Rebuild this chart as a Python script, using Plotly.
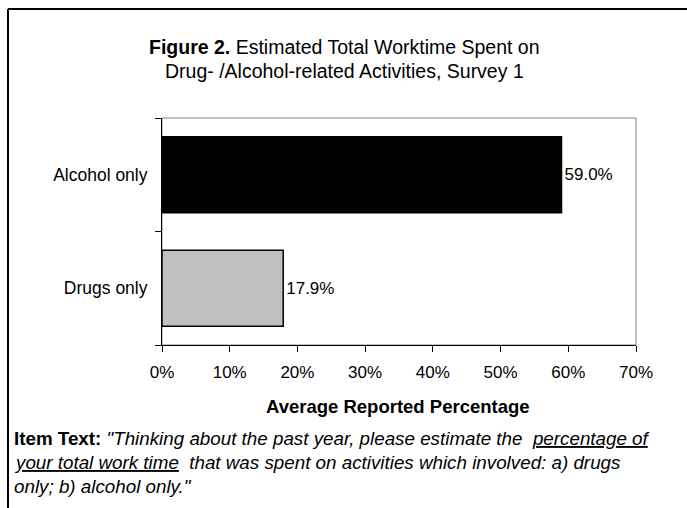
import plotly.graph_objects as go

categories = ["Drugs only", "Alcohol only"]
values = [17.9, 59.0]
bar_colors = ["#C0C0C0", "#000000"]
value_labels = ["17.9%", "59.0%"]
x_tickvals = [0, 10, 20, 30, 40, 50, 60, 70]
x_ticktext = ["0%", "10%", "20%", "30%", "40%", "50%", "60%", "70%"]

W, H = 687, 508
L, R, T, B = 162, 636, 118, 345
FONT = "Liberation Sans, Arial, sans-serif"


def px(x):
    return (x - L) / (R - L)


def py(y):
    return (B - y) / (B - T)


fig = go.Figure()
fig.add_trace(go.Bar(
    y=categories, x=values, orientation="h",
    marker=dict(color=bar_colors, line=dict(color="#000000", width=1.5)),
    text=value_labels, textposition="outside", cliponaxis=False,
    textfont=dict(family=FONT, size=17, color="#000000"),
    width=0.67, hoverinfo="skip",
))

fig.update_layout(
    width=W, height=H,
    margin=dict(l=L, r=W - R, t=T, b=H - B, pad=0),
    paper_bgcolor="white", plot_bgcolor="white",
    showlegend=False,
    font=dict(family=FONT, size=17, color="#000000"),
    bargap=0.33,
)
fig.update_xaxes(
    range=[0, 70], tickvals=x_tickvals, ticktext=x_ticktext,
    showgrid=False, zeroline=False,
    showline=True, linecolor="#000000", linewidth=1,
    ticks="outside", ticklen=6, tickcolor="#000000", tickwidth=1,
    ticklabelstandoff=6,
    tickfont=dict(family=FONT, size=17, color="#000000"),
)
fig.update_yaxes(
    categoryorder="array", categoryarray=categories,
    showgrid=False, zeroline=False,
    showline=True, linecolor="#000000", linewidth=1,
    ticks="outside", ticklen=6, tickcolor="#000000", tickwidth=1,
    tickson="boundaries", ticklabelstandoff=10,
    tickfont=dict(family=FONT, size=17.5, color="#000000"),
)

shapes = [
    dict(type="rect", xref="paper", yref="paper", x0=0, x1=1, y0=0, y1=1,
         line=dict(color="#808080", width=1), layer="below"),
    dict(type="line", xref="paper", yref="paper", x0=px(8), x1=px(690), y0=py(9), y1=py(9),
         line=dict(color="#000000", width=2)),
    dict(type="line", xref="paper", yref="paper", x0=px(8), x1=px(8), y0=py(9), y1=py(515),
         line=dict(color="#000000", width=2)),
]
fig.update_layout(shapes=shapes)

annotations = [
    dict(text="<b>Figure 2.</b> Estimated Total Worktime Spent on", x=px(344), y=py(47)),
    dict(text="Drug- /Alcohol-related Activities, Survey 1", x=px(344), y=py(71)),
]
for a in annotations:
    a.update(xref="paper", yref="paper", xanchor="center", yanchor="middle", showarrow=False,
             font=dict(family=FONT, size=19.5, color="#000000"))

annotations.append(dict(text="<b>Average Reported Percentage</b>", x=px(398), y=py(406),
                        xref="paper", yref="paper", xanchor="center", yanchor="middle",
                        showarrow=False, font=dict(family=FONT, size=18.5, color="#000000")))

item_lines = [
    "<b>Item Text:</b> <i>\"Thinking about the past year, please estimate the  <u>percentage of</u></i>",
    "<i><u>your total work time</u>  that was spent on activities which involved: a) drugs</i>",
    "<i>only; b) alcohol only.\"</i>",
]
for i, t in enumerate(item_lines):
    annotations.append(dict(text=t, x=px(12), y=py(438 + 24 * i), xref="paper", yref="paper",
                            xanchor="left", yanchor="middle", showarrow=False,
                            font=dict(family=FONT, size=18.8, color="#000000")))
fig.update_layout(annotations=annotations)

fig.write_html("out.html", config={"displayModeBar": False},
               post_script="document.body.style.margin='0';")
